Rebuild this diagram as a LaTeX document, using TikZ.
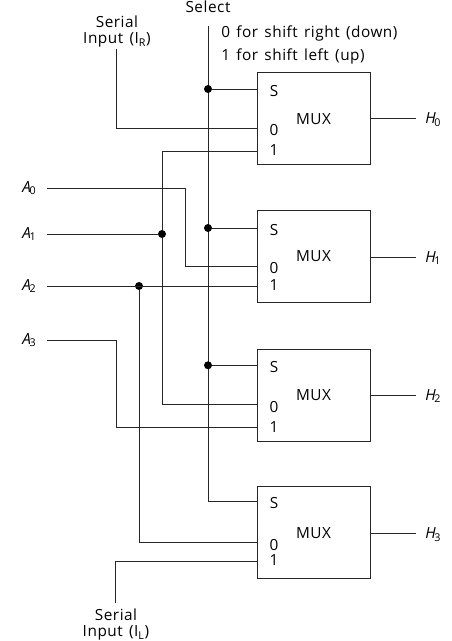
\documentclass[tikz,border=0pt]{standalone}
\usepackage{fontspec}
\setmainfont[LetterSpace=3.5,WordSpace=1.4]{Open Sans}
\usetikzlibrary{calc}

\newcommand{\sig}[2]{{\itshape #1}\kern-1pt\textsubscript{#2}}

\tikzset{
    wire/.style={line width=0.7pt, black!85},
    muxbox/.style={draw=black!85, line width=0.7pt, anchor=north west, minimum width=84.75pt, minimum height=69pt, inner sep=0pt},
    junction/.style={circle, fill=black, inner sep=0pt, minimum size=6pt},
    txt/.style={inner sep=0pt, font=\fontsize{11.5}{12}\selectfont},
    twoline/.style={txt, align=center, font=\fontsize{11.5}{12}\selectfont}
}

\begin{document}
\begin{tikzpicture}[x=0.75pt,y=-0.75pt]
        \useasboundingbox (0,0) rectangle (451,641);
        % Multiplexers with their pins
        \foreach \i/\top/\sy/\zy/\oy/\outy in {0/72.5/89/128/151/118.5,1/210/228/266/286/257,2/348.7/365.3/404.7/427.7/395,3/486.3/501/542.7/561.3/533.5} {
            \node[muxbox] (mux\i) at (256.5,\top) {};
            \node[txt] at ($(mux\i.center)+(0,0)$) {MUX};
            \coordinate (s\i) at (256.5,\sy);
            \coordinate (zero\i) at (256.5,\zy);
            \coordinate (one\i) at (256.5,\oy);
            \node[txt] at (274,\sy+2) {S};
            \node[txt] at (274,\zy+2) {0};
            \node[txt] at (274,\oy-1) {1};
            % Output
            \coordinate (out\i) at (416,\outy);
            \node[txt, anchor=west] (H\i) at (425,\outy+1) {\sig{H}{\i}};
            \draw[wire] (mux\i.east |- out\i) -- (out\i);
        }

        % Labels on top
        \node[txt] (select) at (208,7) {Select};
        \node[txt, anchor=west] (shiftright) at (221,33) {0 for shift right (down)};
        \node[txt, anchor=west] (shiftleft) at (221,56) {1 for shift left (up)};
        \node[twoline] (serialR) at (117,32) {Serial\\Input (I\textsubscript{R})};
        \node[twoline] (serialL) at (116,625) {Serial\\Input (I\textsubscript{L})};

        % Data inputs
        \foreach \i/\y in {0/188,1/234,2/286,3/340} {
            \node[txt, anchor=west] (A\i) at (22,\y) {\sig{A}{\i}};
            \coordinate (a\i) at (47,\y);
        }

        % Select line
        \coordinate (seltop) at (208,26);
        \draw[wire] (seltop) |- (s3);
        \foreach \i in {0,1,2} {
            \node[junction] (seldot\i) at (s\i -| seltop) {};
            \draw[wire] (seldot\i) -- (s\i);
        }

        % Serial inputs
        \coordinate (serialRend) at (116,49.5);
        \coordinate (serialLend) at (115,603);
        \draw[wire] (serialRend) |- (zero0);
        \draw[wire] (serialLend) |- (one3);

        % Wiring between inputs and multiplexers
        \node[junction] (a1dot) at (162,234) {};
        \node[junction] (a2dot) at (139,286) {};
        \draw[wire] (a0) -| (185,266) -- (zero1);
        \draw[wire] (a1) -- (a1dot);
        \draw[wire] (one0) -| (a1dot) |- (zero2);
        \draw[wire] (a2) -- (one1);
        \draw[wire] (a2dot) |- (zero3);
        \draw[wire] (a3) -| (116,427.7) -- (one2);
\end{tikzpicture}
\end{document}
